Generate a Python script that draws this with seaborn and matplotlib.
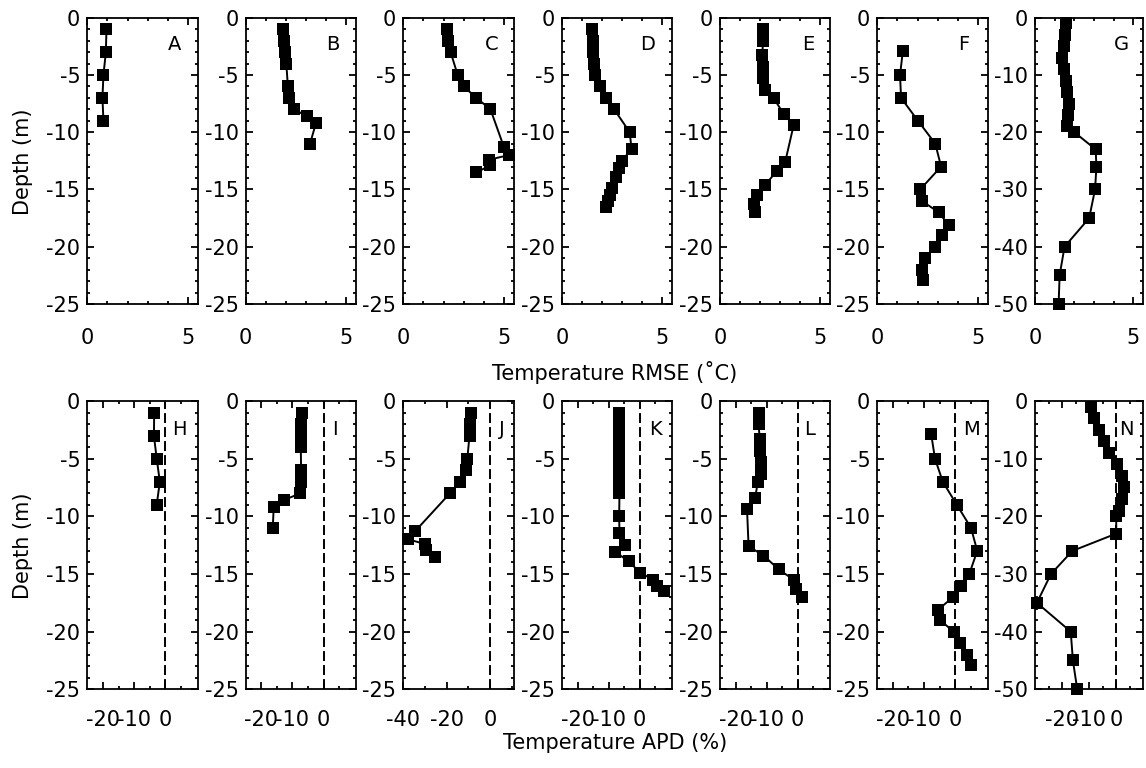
import matplotlib
matplotlib.use("Agg")
import matplotlib.pyplot as plt
import seaborn as sns
from matplotlib.ticker import FixedLocator

# ---------------- data ----------------
panel_letters_top = ["A", "B", "C", "D", "E", "F", "G"]
panel_letters_bot = ["H", "I", "J", "K", "L", "M", "N"]

depth_A = [-1, -3, -5, -7, -9]
rmse_A = [0.95, 0.92, 0.80, 0.75, 0.80]
apd_H = [-3.6, -3.7, -2.8, -1.8, -2.8]

depth_B = [-1, -2, -3, -4, -6, -7, -8, -8.6, -9.2, -11]
rmse_B = [1.85, 1.90, 1.95, 2.02, 2.10, 2.17, 2.40, 3.05, 3.50, 3.20]
apd_I = [-6.8, -7.1, -7.3, -7.3, -7.2, -7.2, -7.4, -12.8, -16.0, -16.3]

depth_C = [-1, -2, -3, -5, -6, -7, -8, -11.3, -12, -12.4, -12.9, -13.5]
rmse_C = [2.15, 2.22, 2.35, 2.70, 3.00, 3.63, 4.33, 5.00, 5.25, 4.25, 4.33, 3.63]
apd_J = [-8.9, -9.2, -9.5, -10.5, -11.3, -13.9, -18.5, -34.6, -37.7, -30.0, -29.5, -25.4]

depth_D = [-1, -2, -3, -4, -5, -6, -7, -8, -10, -11.45, -12.5, -13.1, -13.9,
           -14.9, -15.5, -16, -16.5]
rmse_D = [1.50, 1.52, 1.55, 1.58, 1.62, 1.88, 2.20, 2.60, 3.38, 3.47, 3.00, 2.85,
          2.68, 2.47, 2.38, 2.30, 2.20]
apd_K = [-6.6, -6.7, -6.8, -6.8, -6.8, -6.8, -6.7, -6.5, -6.6, -6.5, -4.8, -7.8,
         -3.5, 0.2, 4.5, 5.5, 8.0]

depth_E = [-1, -2, -3.3, -4.3, -5.3, -6.3, -7, -8.4, -9.4, -12.6, -13.4, -14.6,
           -15.5, -16.3, -17]
rmse_E = [2.15, 2.15, 2.10, 2.12, 2.15, 2.25, 2.67, 3.17, 3.67, 3.25, 2.83, 2.25,
          1.85, 1.70, 1.75]
apd_L = [-12.6, -12.6, -12.2, -12.0, -11.7, -11.8, -12.8, -13.7, -16.3, -15.8,
         -11.0, -6.1, -1.3, -0.4, 1.5]

depth_F = [-2.9, -5, -7, -9, -11, -13, -15, -16, -17, -18.1, -19, -20, -21, -22,
           -22.9]
rmse_F = [1.27, 1.13, 1.18, 2.02, 2.88, 3.17, 2.13, 2.22, 3.05, 3.55, 3.22, 2.88,
          2.38, 2.22, 2.27]
apd_M = [-7.7, -6.5, -4.0, 0.5, 5.05, 7.05, 4.5, 1.9, -0.7, -5.5, -4.9, -0.5,
         1.6, 3.9, 5.0]

depth_G = [-1, -3, -5, -7, -9, -11, -13, -15, -17, -19, -20, -23, -26, -30, -35,
           -40, -45, -50]
rmse_G = [1.55, 1.50, 1.45, 1.38, 1.45, 1.58, 1.65, 1.72, 1.70, 1.62, 2.00, 3.08,
          3.12, 3.05, 2.75, 1.50, 1.25, 1.20]
apd_N = [-9.5, -8.3, -6.5, -4.6, -2.8, 0.2, 2.1, 2.7, 2.1, 0.9, 0.0, 0.0, -16.2,
         -24.1, -29.3, -16.8, -16.0, -14.4]

depths = [depth_A, depth_B, depth_C, depth_D, depth_E, depth_F, depth_G]
rmse = [rmse_A, rmse_B, rmse_C, rmse_D, rmse_E, rmse_F, rmse_G]
apd = [apd_H, apd_I, apd_J, apd_K, apd_L, apd_M, apd_N]

depth_limits = [-25, -25, -25, -25, -25, -25, -50]
rmse_xticks = [0, 5]
apd_xticks = [[-20, -10, 0], [-20, -10, 0], [-40, -20, 0], [-20, -10, 0],
              [-20, -10, 0], [-20, -10, 0], [-20, -10, 0]]
apd_xlims = [(-25, 10.5), (-25, 10.5), (-40, 11), (-25, 10.5), (-25, 10.5),
             (-25, 10.5), (-30, 10)]

xlabel_top = "Temperature RMSE (˚C)"
xlabel_bot = "Temperature APD (%)"
ylabel = "Depth (m)"

# ---------------- style ----------------
sns.set_theme(style="ticks")
plt.rcParams["font.family"] = ["DejaVu Sans"]
plt.rcParams["axes.unicode_minus"] = False

W, H = 1146, 768
fig = plt.figure(figsize=(W / 100, H / 100), dpi=100)

lefts_px = [87.3, 245.7, 403.3, 562.3, 720.0, 877.3, 1035.0]
widths_px = [111.0, 110.5, 110.7, 109.7, 110.3, 110.7, 108.3]
row_top_px = [(17.7, 304.0), (401.0, 689.3)]
letter_x = [[0.783, 0.79, 0.80, 0.777, 0.797, 0.78, 0.80],
            [0.83, 0.81, 0.89, 0.846, 0.81, 0.853, 0.843]]
letter_y = [0.905, 0.90]

TICK_FS = 15
LW = 1.4


def style_axes(ax, xpad):
    for s in ax.spines.values():
        s.set_linewidth(1.3)
        s.set_color("black")
    ax.tick_params(which="both", direction="in", top=True, right=True,
                   color="black", width=1.3, labelsize=TICK_FS,
                   labelcolor="black")
    ax.tick_params(which="major", length=5)
    ax.tick_params(which="minor", length=2.5)
    ax.tick_params(axis="x", pad=xpad)
    ax.tick_params(axis="y", pad=5)
    ax.set_xlabel("")
    ax.set_ylabel("")
    ax.set_facecolor("white")


for row in range(2):
    top, bot = row_top_px[row]
    for i in range(7):
        rect = [lefts_px[i] / W, 1 - bot / H, widths_px[i] / W, (bot - top) / H]
        ax = fig.add_axes(rect)
        xvals = rmse[i] if row == 0 else apd[i]
        if row == 1:
            ax.axvline(0, color="black", lw=LW, ls=(0, (5.1, 2.1)), zorder=1)
        sns.lineplot(x=xvals, y=depths[i], sort=False, estimator=None,
                     marker="s", markersize=8, markeredgewidth=0,
                     color="black", linewidth=LW, ax=ax, zorder=3)
        for ln in ax.lines:
            ln.set_clip_on(False)
        dl = depth_limits[i]
        ax.set_ylim(dl, 0)
        step = 5 if dl == -25 else 10
        mstep = 1 if dl == -25 else 2
        ax.yaxis.set_major_locator(FixedLocator(list(range(0, dl - 1, -step))))
        ax.yaxis.set_minor_locator(FixedLocator(list(range(0, dl - 1, -mstep))))
        if row == 0:
            ax.set_xlim(0, 5.5)
            ax.xaxis.set_major_locator(FixedLocator(rmse_xticks))
            ax.xaxis.set_minor_locator(FixedLocator([1, 2, 3, 4]))
            style_axes(ax, 17)
            letter = panel_letters_top[i]
        else:
            lo, hi = apd_xlims[i]
            ax.set_xlim(lo, hi)
            ticks = apd_xticks[i]
            ax.xaxis.set_major_locator(FixedLocator(ticks))
            mstep_x = (ticks[1] - ticks[0]) // 2
            minors = [t for t in range(int(lo) // 1, int(hi) + 1)
                      if (t - ticks[0]) % mstep_x == 0 and t not in ticks
                      and (t - ticks[0]) % (2 * mstep_x) != 0 and lo < t < hi]
            ax.xaxis.set_minor_locator(FixedLocator(minors))
            style_axes(ax, 15)
            letter = panel_letters_bot[i]
        ax.text(letter_x[row][i], letter_y[row], letter, transform=ax.transAxes,
                ha="center", va="center", fontsize=14, color="black")

fig.text(615 / W, 1 - 373 / H, xlabel_top, ha="center", va="center",
         fontsize=15, color="black")
fig.text(615 / W, 1 - 743 / H, xlabel_bot, ha="center", va="center",
         fontsize=15, color="black")
fig.text(23 / W, 1 - 162 / H, ylabel, rotation=90, ha="center", va="center",
         fontsize=15, color="black")
fig.text(23 / W, 1 - 546 / H, ylabel, rotation=90, ha="center", va="center",
         fontsize=15, color="black")

fig.savefig("out.png", dpi=100, facecolor="white")
